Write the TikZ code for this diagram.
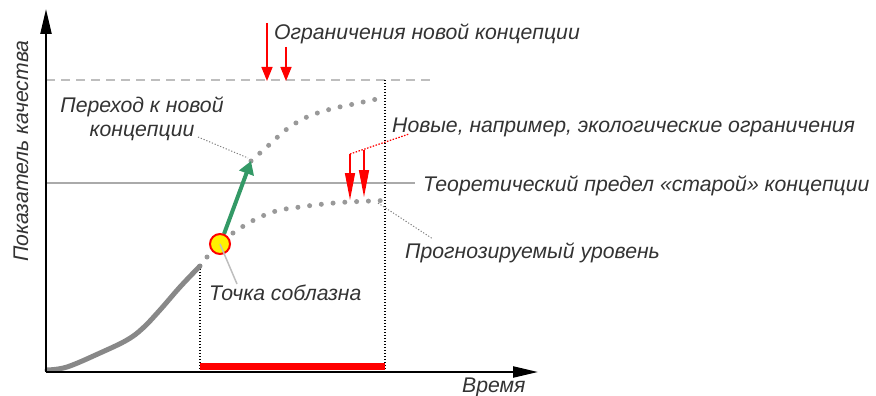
\documentclass[tikz,border=0pt]{standalone}
\usepackage{fontspec}
\setmainfont{Liberation Sans}
\usetikzlibrary{arrows.meta}
\definecolor{txt}{HTML}{333333}
\definecolor{grn}{HTML}{339966}
\definecolor{dotg}{HTML}{999999}
\begin{document}
\begin{tikzpicture}[x=1pt,y=-1pt,
  lbl/.style={font=\fontsize{21.2}{24}\selectfont\itshape, text=txt, inner sep=0pt},
  axis/.style={line width=2.2pt, -{Triangle[length=25pt,width=11pt]}},
  redarr/.style={red, line width=1.5pt, -{Triangle[length=14pt,width=11pt]}},
  redarrlong/.style={red, line width=1.5pt, -{Triangle[length=27pt,width=10pt]}},
  vdots/.style={black, line width=1.3pt, dash pattern=on 1.4pt off 1.6pt},
  bigdots/.style={dotg, line width=5pt, line cap=round, dash pattern=on 0pt off 11.8pt},
  leader/.style={gray, line width=1pt, dash pattern=on 1.2pt off 1.8pt}
]
\useasboundingbox (0,0) rectangle (876,396);
% coordinates
\coordinate (O) at (46,372);
\coordinate (Ytip) at (46,9);
\coordinate (Xtip) at (538,372);
% limit lines
\coordinate (dashL) at (46,80);
\coordinate (dashR) at (432,80);
\coordinate (solL) at (46,183);
\coordinate (solR) at (415,183);
\draw[color={rgb,255:red,190;green,190;blue,190}, line width=1.5pt, dash pattern=on 9pt off 6pt] (dashL) -- (dashR);
\draw[color={rgb,255:red,170;green,170;blue,170}, line width=2pt] (solL) -- (solR);
% vertical dotted lines
\coordinate (vL1) at (200,266);
\coordinate (vL2) at (200,372);
\coordinate (vR1) at (385,80);
\coordinate (vR2) at (385,372);
\draw[vdots] (vL1) -- (vL2);
\draw[vdots] (vR1) -- (vR2);
% red bar
\fill[red] (200,363) rectangle (385,370);
% thick gray curve
\draw[color={rgb,255:red,136;green,136;blue,136}, line width=5pt, line cap=round]
  plot[smooth, tension=0.6] coordinates {(47,370) (67,367) (100,353) (127,340) (143,328) (160,310) (180,287) (200,266)};
% lower dotted curve
\draw[bigdots] plot[smooth, tension=0.6] coordinates {(207,257) (220,244) (233,233) (254,220) (276,211) (300,207) (324,204) (348,202) (384,200.5)};
% upper dotted curve
\draw[bigdots] plot[smooth, tension=0.6] coordinates {(251,161) (260,153) (269,145) (287,129) (307,117) (331,109) (354,104) (377,99)};
% axes
\draw[axis] (O) -- (Ytip);
\draw[axis] (O) -- (Xtip);
% green arrow
\coordinate (gS) at (224,234);
\coordinate (gE) at (251,161);
\draw[grn, line width=4pt, -{Triangle[length=13pt,width=15pt]}] (gS) -- (gE);
% circle
\node[circle, draw=red, fill=yellow, line width=2pt, minimum size=20pt, inner sep=0pt] (tp) at (220,244) {};
% top red arrows
\coordinate (ra1s) at (267,23);
\coordinate (ra1e) at (267,81);
\coordinate (ra2s) at (286,47);
\coordinate (ra2e) at (286,81);
\draw[redarr] (ra1s) -- (ra1e);
\draw[redarr] (ra2s) -- (ra2e);
% middle red arrows
\coordinate (rb1s) at (350,154);
\coordinate (rb1e) at (350,200);
\coordinate (rb2s) at (364,149.5);
\coordinate (rb2e) at (364,197);
\coordinate (rlead) at (409,134);
\draw[red, line width=1.2pt, dash pattern=on 1.5pt off 1.5pt] (rb1s) -- (rlead);
\draw[redarrlong] (rb1s) -- (rb1e);
\draw[redarrlong] (rb2s) -- (rb2e);
% labels
\node[lbl, anchor=base west] (lOgr) at (274,40) {Ограничения новой концепции};
\node[lbl, anchor=base] (lPer) at (142,113) {\begin{tabular}[t]{@{}c@{}}Переход к новой\\концепции\end{tabular}};
\node[lbl, anchor=base west] (lNov) at (392,132) {Новые, например, экологические ограничения};
\node[lbl, anchor=base west] (lTeo) at (423,191) {Теоретический предел «старой» концепции};
\node[lbl, anchor=base west] (lPro) at (405,258) {Прогнозируемый уровень};
\node[lbl, anchor=base west] (lToch) at (209,300) {Точка соблазна};
\node[lbl, anchor=base west] (lVr) at (462,392) {Время};
\node[lbl, anchor=base west, rotate=90] (lPok) at (28,262) {Показатель качества};
% leaders
\coordinate (perA) at (198,137);
\coordinate (perB) at (248,158);
\draw[leader] (perA) -- (perB);
\coordinate (proA) at (378,203);
\coordinate (proB) at (433,239);
\draw[leader] (proA) -- (proB);
\coordinate (tochB) at (237,284);
\draw[color={rgb,255:red,190;green,190;blue,190}, line width=1.5pt] (tp.center) -- (tochB);
\end{tikzpicture}
\end{document}
